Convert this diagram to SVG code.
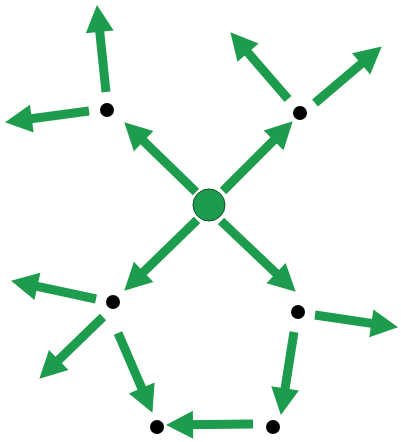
<svg xmlns="http://www.w3.org/2000/svg" width="401" height="442" viewBox="0 0 401 442">
<style>
.c{stroke:#1c9c4c;stroke-width:9;fill:none;marker-end:url(#ah)}
.d{fill:#000}
</style>
<defs>
<marker id="ah" markerUnits="userSpaceOnUse" markerWidth="30" markerHeight="30" viewBox="0 0 30 30" refX="15" refY="15" orient="auto">
<path d="M3,1 L30,15 L3,29 z" fill="#1c9c4c"/>
</marker>
</defs>
<rect width="401" height="442" fill="#fff"/>
<g id="connectors">
<line class="c" x1="196" y1="192" x2="135" y2="132.8"/>
<line class="c" x1="223" y1="191" x2="282.1" y2="131.9"/>
<line class="c" x1="197" y1="220" x2="135" y2="280.2"/>
<line class="c" x1="221" y1="221" x2="284.8" y2="281.4"/>
<line class="c" x1="106" y1="92" x2="98.5" y2="19.9"/>
<line class="c" x1="89" y1="111" x2="19.9" y2="120.2"/>
<line class="c" x1="288" y1="99" x2="240.2" y2="43.6"/>
<line class="c" x1="315" y1="103" x2="370.3" y2="56.1"/>
<line class="c" x1="96" y1="299" x2="25.7" y2="283.9"/>
<line class="c" x1="103" y1="317" x2="50.1" y2="368.3"/>
<line class="c" x1="118" y1="333" x2="146.5" y2="399.1"/>
<line class="c" x1="315" y1="315" x2="383.2" y2="325.1"/>
<line class="c" x1="294" y1="332" x2="283.2" y2="400.2"/>
<line class="c" x1="253" y1="424" x2="181" y2="424.8"/>
</g>
<g id="center"><circle cx="209" cy="205" r="16" fill="#1c9c4c" stroke="#0e4d27" stroke-width="1"/></g>
<g id="n-tl"><circle class="d" cx="107" cy="110" r="7"/></g>
<g id="n-tr"><circle class="d" cx="300" cy="113" r="7"/></g>
<g id="n-bl"><circle class="d" cx="113" cy="302" r="7"/></g>
<g id="n-r"><circle class="d" cx="298" cy="312" r="7"/></g>
<g id="n-b1"><circle class="d" cx="157" cy="427" r="7"/></g>
<g id="n-b2"><circle class="d" cx="273" cy="427" r="7"/></g>
</svg>
